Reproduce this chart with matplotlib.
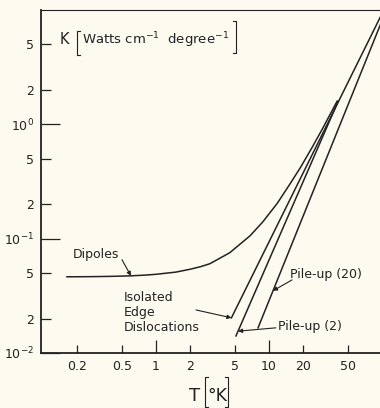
import numpy as np
import matplotlib.pyplot as plt
from matplotlib.lines import Line2D
from matplotlib.ticker import FixedLocator, FixedFormatter

plt.rcParams['font.family'] = ['DejaVu Sans']
plt.rcParams['mathtext.fontset'] = 'dejavusans'

bg = '#fdfaef'
ink = '#222222'

# кривая "Dipoles"
dip_T = [0.163, 0.25, 0.4, 0.6, 0.8, 1.0, 1.5, 2.0, 2.5, 3.0, 4.5, 6.8, 8.8, 11.8, 15.3, 19, 24, 30, 40]
dip_K = [0.0464, 0.0465, 0.0468, 0.0473, 0.0480, 0.0488, 0.0510, 0.0540, 0.057, 0.0604,
         0.0754, 0.106, 0.140, 0.203, 0.30, 0.42, 0.625, 0.93, 1.59]

# прямые
edge_T = [4.65, 100]
edge_K = [0.0203, 9.3]
pile2_T = [5.1, 41]
pile2_K = [0.0141, 1.6]
pile20_T = [8.0, 100]
pile20_K = [0.0166, 8.07]

x_major = [1, 10]
x_minor = [0.2, 0.5, 2, 5, 20, 50]
y_major = [0.01, 0.1, 1]
y_major_lab = ['$10^{-2}$', '$10^{-1}$', '$10^{0}$']
y_minor = [0.02, 0.05, 0.2, 0.5, 2, 5]

W, H = 380, 408
fig = plt.figure(figsize=(W/100, H/100), dpi=100, facecolor=bg)
ax = fig.add_axes([41/W, 1 - 353/H, 339/W, 343/H], facecolor=bg)
ax.set_xscale('log')
ax.set_yscale('log')
ax.set_xlim(0.096, 96)
ax.set_ylim(0.01, 10)

ax.plot(dip_T, dip_K, color=ink, lw=1.1)
ax.plot(edge_T, edge_K, color=ink, lw=1.1)
ax.plot(pile2_T, pile2_K, color=ink, lw=1.1)
ax.plot(pile20_T, pile20_K, color=ink, lw=1.1)

# оси и деления
ax.xaxis.set_major_locator(FixedLocator(x_major))
ax.xaxis.set_major_formatter(FixedFormatter([f'{v:g}' for v in x_major]))
ax.xaxis.set_minor_locator(FixedLocator(x_minor))
ax.xaxis.set_minor_formatter(FixedFormatter([f'{v:g}' for v in x_minor]))
ax.yaxis.set_major_locator(FixedLocator(y_major))
ax.yaxis.set_major_formatter(FixedFormatter(y_major_lab))
ax.yaxis.set_minor_locator(FixedLocator(y_minor))
ax.yaxis.set_minor_formatter(FixedFormatter([f'{v:g}'[-1] for v in y_minor]))

ax.tick_params(which='both', direction='in', colors=ink, labelsize=9, width=0.9)
ax.tick_params(axis='x', which='major', length=9.5, pad=5)
ax.tick_params(axis='x', which='minor', length=6, pad=5)
ax.tick_params(axis='y', which='major', length=14, pad=5)
ax.tick_params(axis='y', which='minor', length=7, pad=5)

ax.spines['right'].set_visible(False)
ax.spines['top'].set_linewidth(0.8)
ax.spines['left'].set_linewidth(1.3)
ax.spines['bottom'].set_linewidth(1.3)
for s in ax.spines.values():
    s.set_color(ink)

# подписи кривых
arr = dict(arrowstyle='-|>', color=ink, lw=0.8, mutation_scale=6, shrinkA=0, shrinkB=0)
ax.text(0.184, 0.0681, 'Dipoles', fontsize=9, color=ink, va='baseline')
ax.annotate('', xy=(dip_T[3], dip_K[3]), xytext=(0.50, 0.0654), arrowprops=arr)

ax.text(0.521, 0.0156, 'Isolated\nEdge\nDislocations', fontsize=9, color=ink,
        va='baseline', linespacing=1.2)
ax.annotate('', xy=(edge_T[0], edge_K[0]), xytext=(2.26, 0.0238), arrowprops=arr)


def on_line(T, xs, ys):
    return 10**np.interp(np.log10(T), np.log10(xs), np.log10(ys))


ax.text(15.3, 0.0455, 'Pile-up (20)', fontsize=9, color=ink, va='baseline')
ax.annotate('', xy=(10.85, on_line(10.85, pile20_T, pile20_K)), xytext=(16.0, 0.0436), arrowprops=arr)

ax.text(11.9, 0.0159, 'Pile-up (2)', fontsize=9, color=ink, va='baseline')
ax.annotate('', xy=(5.32, on_line(5.32, pile2_T, pile2_K)), xytext=(11.5, 0.0166), arrowprops=arr)


# подписи осей со скобками
def px(x, y):
    return x / W, 1 - y / H


def bracket(x, y0, y1, d):
    xs = [x + d, x, x, x + d]
    ys = [y0, y0, y1, y1]
    pts = [px(a, b) for a, b in zip(xs, ys)]
    fig.add_artist(Line2D([p[0] for p in pts], [p[1] for p in pts], color=ink, lw=0.8,
                          transform=fig.transFigure))


fig.text(*px(60, 44), 'K', fontsize=10.5, color=ink, va='baseline')
fig.text(*px(82, 44), r'Watts cm$^{-1}$  degree$^{-1}$', fontsize=9.5, color=ink, va='baseline')
bracket(77, 31, 55, 3)
bracket(236, 21, 53, -3)

fig.text(*px(200, 401), 'T', fontsize=13, color=ink, va='baseline', ha='right')
fig.text(*px(207, 401), '°K', fontsize=12.5, color=ink, va='baseline')
bracket(205, 377, 407, 3)
bracket(228, 377, 407, -3)

fig.savefig('out.png', dpi=100, facecolor=bg)
